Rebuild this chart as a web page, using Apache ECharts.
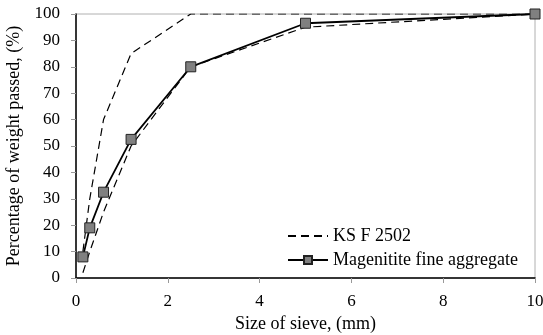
<!DOCTYPE html>
<html>
<head>
<meta charset="utf-8">
<script src="https://cdn.jsdelivr.net/npm/echarts@6/dist/echarts.min.js"></script>
<style>html,body{margin:0;padding:0;background:#fff}#c{width:543px;height:335px}</style>
</head>
<body>
<div id="c"></div>
<script>
var sieveSizes = [0.15, 0.3, 0.6, 1.2, 2.5, 5, 10];
var ksUpper = [10, 30, 60, 85, 100, 100, 100];
var ksLower = [2, 10, 25, 50, 80, 95, 100];
var magnetite = [8, 19, 32.5, 52.5, 80, 96.5, 100];
var ksName = 'KS F 2502';
var magName = 'Magenitite fine aggregate';

function pairs(xs, ys) { return xs.map(function (x, i) { return [x, ys[i]]; }); }

var font = 'Liberation Serif';
var chart = echarts.init(document.getElementById('c'));
chart.setOption({
  animation: false,
  textStyle: { fontFamily: font, color: '#000' },
  grid: { left: 76, right: 8, top: 14, bottom: 57, show: true, borderColor: '#b0b0b0', borderWidth: 1,
          containLabel: false, outerBoundsMode: 'none' },
  legend: {
    orient: 'vertical', left: 282, top: 222, itemWidth: 40, itemHeight: 10, itemGap: 6,
    data: [{ name: ksName, itemStyle: { opacity: 0 } }, { name: magName }],
    textStyle: { fontFamily: font, fontSize: 18, color: '#000' }
  },
  xAxis: {
    type: 'value', min: 0, max: 10, interval: 2,
    name: 'Size of sieve, (mm)', nameLocation: 'middle', nameGap: 33,
    nameTextStyle: { fontFamily: font, fontSize: 18, color: '#000' },
    axisLine: { lineStyle: { color: '#000', width: 1.5 } },
    axisTick: { show: true, length: 5, lineStyle: { color: '#999' } },
    axisLabel: { fontFamily: font, fontSize: 17, color: '#000', margin: 15 },
    splitLine: { show: false }
  },
  yAxis: {
    type: 'value', min: 0, max: 100, interval: 10,
    name: 'Percentage of weight passed, (%)', nameLocation: 'middle', nameGap: 48,
    nameTextStyle: { fontFamily: font, fontSize: 18, color: '#000' },
    axisLine: { show: true, lineStyle: { color: '#000', width: 1.5 } },
    axisTick: { show: true, length: 5, lineStyle: { color: '#999' } },
    axisLabel: { fontFamily: font, fontSize: 17, color: '#000', margin: 16 },
    splitLine: { show: false }
  },
  series: [
    { name: ksName, type: 'line', data: pairs(sieveSizes, ksUpper), symbol: 'none',
      lineStyle: { color: '#000', width: 1.2, type: [8, 5] }, itemStyle: { color: '#000' } },
    { name: ksName, type: 'line', data: pairs(sieveSizes, ksLower), symbol: 'none',
      lineStyle: { color: '#000', width: 1.2, type: [8, 5] }, itemStyle: { color: '#000' } },
    { name: magName, type: 'line', data: pairs(sieveSizes, magnetite), symbol: 'rect', symbolSize: 10,
      lineStyle: { color: '#000', width: 1.8 },
      itemStyle: { color: '#808080', borderColor: '#222', borderWidth: 1 }, z: 3 }
  ]
});
</script>
</body>
</html>
